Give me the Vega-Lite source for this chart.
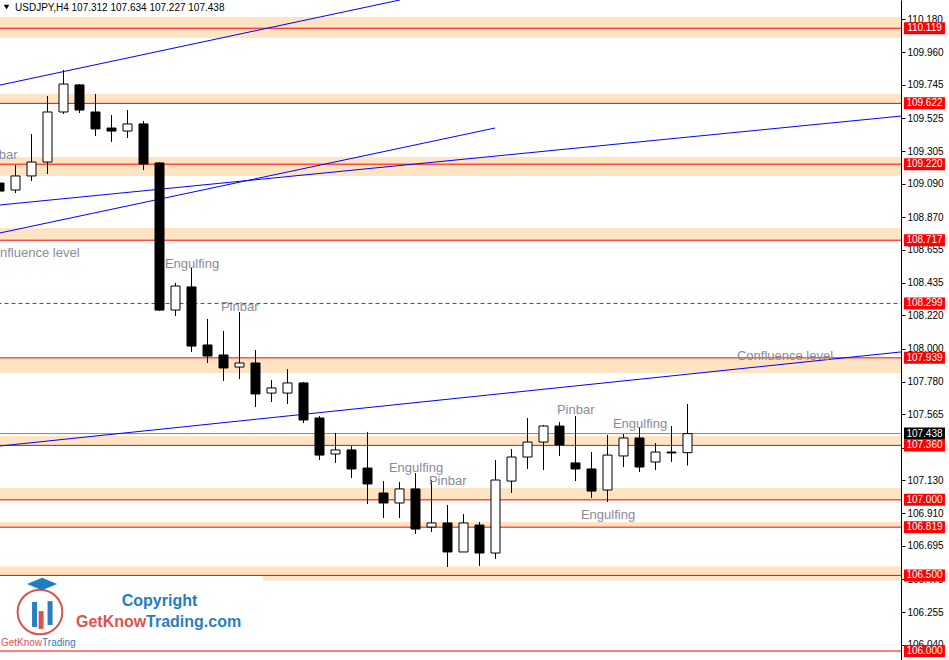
{
  "$schema": "https://vega.github.io/schema/vega-lite/v6.json",
  "description": "USDJPY H4 candlestick chart with support/resistance zones and pattern notes",
  "width": 949,
  "height": 660,
  "autosize": {"type": "none"},
  "padding": 0,
  "background": "white",
  "view": {"stroke": null},
  "config": {"font": "Liberation Sans", "scale": {"continuousPadding": 0}},
  "datasets": {
    "candles": [
      {"i": 0, "o": 109.095, "h": 109.11, "l": 109.03, "c": 109.042},
      {"i": 1, "o": 109.049, "h": 109.214, "l": 109.029, "c": 109.142},
      {"i": 2, "o": 109.142, "h": 109.419, "l": 109.109, "c": 109.234},
      {"i": 3, "o": 109.234, "h": 109.671, "l": 109.155, "c": 109.565},
      {"i": 4, "o": 109.565, "h": 109.843, "l": 109.552, "c": 109.75},
      {"i": 5, "o": 109.744, "h": 109.75, "l": 109.558, "c": 109.578},
      {"i": 6, "o": 109.565, "h": 109.684, "l": 109.406, "c": 109.453},
      {"i": 7, "o": 109.459, "h": 109.545, "l": 109.367, "c": 109.439},
      {"i": 8, "o": 109.439, "h": 109.578, "l": 109.393, "c": 109.486},
      {"i": 9, "o": 109.486, "h": 109.505, "l": 109.181, "c": 109.221},
      {"i": 10, "o": 109.228, "h": 109.234, "l": 108.249, "c": 108.255},
      {"i": 11, "o": 108.255, "h": 108.434, "l": 108.216, "c": 108.414},
      {"i": 12, "o": 108.408, "h": 108.533, "l": 107.978, "c": 108.017},
      {"i": 13, "o": 108.024, "h": 108.196, "l": 107.905, "c": 107.951},
      {"i": 14, "o": 107.958, "h": 108.117, "l": 107.786, "c": 107.872},
      {"i": 15, "o": 107.878, "h": 108.242, "l": 107.799, "c": 107.905},
      {"i": 16, "o": 107.905, "h": 107.991, "l": 107.614, "c": 107.7},
      {"i": 17, "o": 107.706, "h": 107.792, "l": 107.647, "c": 107.74},
      {"i": 18, "o": 107.706, "h": 107.865, "l": 107.634, "c": 107.773},
      {"i": 19, "o": 107.773, "h": 107.779, "l": 107.508, "c": 107.528},
      {"i": 20, "o": 107.541, "h": 107.554, "l": 107.263, "c": 107.296},
      {"i": 21, "o": 107.303, "h": 107.442, "l": 107.244, "c": 107.33},
      {"i": 22, "o": 107.33, "h": 107.356, "l": 107.144, "c": 107.204},
      {"i": 23, "o": 107.21, "h": 107.449, "l": 106.972, "c": 107.105},
      {"i": 24, "o": 107.045, "h": 107.124, "l": 106.88, "c": 106.979},
      {"i": 25, "o": 106.979, "h": 107.118, "l": 106.88, "c": 107.072},
      {"i": 26, "o": 107.072, "h": 107.177, "l": 106.774, "c": 106.807},
      {"i": 27, "o": 106.82, "h": 107.131, "l": 106.787, "c": 106.847},
      {"i": 28, "o": 106.847, "h": 106.966, "l": 106.556, "c": 106.655},
      {"i": 29, "o": 106.655, "h": 106.906, "l": 106.655, "c": 106.847},
      {"i": 30, "o": 106.833, "h": 106.853, "l": 106.562, "c": 106.648},
      {"i": 31, "o": 106.648, "h": 107.263, "l": 106.609, "c": 107.131},
      {"i": 32, "o": 107.124, "h": 107.336, "l": 107.045, "c": 107.283},
      {"i": 33, "o": 107.283, "h": 107.541, "l": 107.204, "c": 107.382},
      {"i": 34, "o": 107.382, "h": 107.495, "l": 107.197, "c": 107.488},
      {"i": 35, "o": 107.488, "h": 107.515, "l": 107.29, "c": 107.363},
      {"i": 36, "o": 107.244, "h": 107.554, "l": 107.124, "c": 107.204},
      {"i": 37, "o": 107.204, "h": 107.316, "l": 107.012, "c": 107.058},
      {"i": 38, "o": 107.065, "h": 107.429, "l": 106.986, "c": 107.296},
      {"i": 39, "o": 107.29, "h": 107.435, "l": 107.217, "c": 107.409},
      {"i": 40, "o": 107.409, "h": 107.482, "l": 107.184, "c": 107.217},
      {"i": 41, "o": 107.25, "h": 107.376, "l": 107.197, "c": 107.316},
      {"i": 42, "o": 107.316, "h": 107.488, "l": 107.25, "c": 107.31},
      {"i": 43, "o": 107.312, "h": 107.634, "l": 107.227, "c": 107.438}
    ],
    "zones": [
      {"i": -1, "i2": 56.34, "p": 110.193, "p2": 110.054},
      {"i": -1, "i2": 56.34, "p": 109.684, "p2": 109.618},
      {"i": -1, "i2": 56.34, "p": 109.267, "p2": 109.142},
      {"i": -1, "i2": 56.34, "p": 108.798, "p2": 108.718},
      {"i": -1, "i2": 56.34, "p": 107.938, "p2": 107.839},
      {"i": -1, "i2": 56.34, "p": 107.422, "p2": 107.363},
      {"i": -1, "i2": 56.34, "p": 107.078, "p2": 106.995},
      {"i": -1, "i2": 56.34, "p": 106.853, "p2": 106.82},
      {"i": -1, "i2": 56.34, "p": 106.56, "p2": 106.497},
      {"i": 16.47, "i2": 56.34, "p": 106.497, "p2": 106.467}
    ],
    "levels": [
      {"p": 110.119, "label": "110.119", "kind": "level"},
      {"p": 109.622, "label": "109.622", "kind": "level"},
      {"p": 109.22, "label": "109.220", "kind": "level"},
      {"p": 108.717, "label": "108.717", "kind": "level"},
      {"p": 108.299, "label": "108.299", "kind": "dashed"},
      {"p": 107.939, "label": "107.939", "kind": "level"},
      {"p": 107.36, "label": "107.360", "kind": "level"},
      {"p": 107.0, "label": "107.000", "kind": "level"},
      {"p": 106.819, "label": "106.819", "kind": "level"},
      {"p": 106.5, "label": "106.500", "kind": "level"},
      {"p": 106.0, "label": "106.000", "kind": "level"},
      {"p": 107.438, "label": "107.438", "kind": "bid"}
    ],
    "trends": [
      {"id": "a", "i": 0.03, "p": 109.743},
      {"id": "a", "i": 25.03, "p": 110.306},
      {"id": "b", "i": 0.03, "p": 108.765},
      {"id": "b", "i": 30.97, "p": 109.459},
      {"id": "c", "i": 0.03, "p": 108.95},
      {"id": "c", "i": 56.34, "p": 109.538},
      {"id": "d", "i": 0.03, "p": 107.356},
      {"id": "d", "i": 56.34, "p": 107.978}
    ],
    "notes": [
      {"i": -1.22, "p": 109.257, "text": "Pinbar"},
      {"i": -1.006, "p": 108.608, "text": "Confluence level"},
      {"i": 10.34, "p": 108.53, "text": "Engulfing"},
      {"i": 13.84, "p": 108.249, "text": "Pinbar"},
      {"i": 46.09, "p": 107.925, "text": "Confluence level"},
      {"i": 24.34, "p": 107.187, "text": "Engulfing"},
      {"i": 26.84, "p": 107.098, "text": "Pinbar"},
      {"i": 34.84, "p": 107.568, "text": "Pinbar"},
      {"i": 38.34, "p": 107.478, "text": "Engulfing"},
      {"i": 36.34, "p": 106.876, "text": "Engulfing"}
    ],
    "header": [
      {"i": 0.97, "p": 110.233, "text": "USDJPY,H4  107.312 107.634 107.227 107.438"}
    ],
    "marker": [{"i": 0.44, "p": 110.259}],
    "logo_ring": [{"i": 2.53, "p": 106.258}],
    "logo_cap": [{"i": 2.66, "p": 106.443}],
    "logo_bars": [
      {"i": 2.19, "p": 106.324, "p2": 106.159, "tone": "blue"},
      {"i": 2.6, "p": 106.264, "p2": 106.146, "tone": "red"},
      {"i": 3.16, "p": 106.33, "p2": 106.172, "tone": "blue"}
    ],
    "logo_title": [{"i": 10.0, "p": 106.301, "text": "Copyright"}],
    "logo_brand": [
      {"i": 4.78, "p": 106.162, "text": "GetKnow", "tone": "red"},
      {"i": 9.16, "p": 106.162, "text": "Trading.com", "tone": "blue"}
    ],
    "logo_small": [
      {"i": 0.09, "p": 106.033, "text": "GetKnow", "tone": "red"},
      {"i": 2.66, "p": 106.033, "text": "Trading", "tone": "blue"}
    ]
  },
  "encoding": {
    "y": {
      "field": "p",
      "type": "quantitative",
      "scale": {"domain": [105.9406, 110.3057], "nice": false, "zero": false, "padding": 0},
      "axis": {
        "orient": "right",
        "offset": -48,
        "title": null,
        "grid": false,
        "values": [110.18, 109.96, 109.745, 109.525, 109.305, 109.09, 108.87, 108.655, 108.435, 108.22, 108.0, 107.78, 107.565, 107.345, 107.13, 106.91, 106.695, 106.475, 106.255, 106.04],
        "format": ".3f",
        "domainColor": "black",
        "tickColor": "black",
        "tickSize": 4,
        "labelColor": "black",
        "labelFont": "Liberation Sans",
        "labelFontSize": 10,
        "labelPadding": 2,
        "labelOverlap": false,
        "labelBound": false,
        "labelFlush": false,
        "zindex": 0
      }
    }
  },
  "layer": [
    {
      "data": {"name": "zones"},
      "mark": {"type": "rect", "color": "#ffe4c4"},
      "encoding": {
        "x": {"field": "i", "type": "quantitative", "scale": {"domain": [0.03125, 59.34375], "nice": false, "zero": false, "padding": 0}, "axis": null},
        "x2": {"field": "i2"},
        "y2": {"field": "p2"}
      }
    },
    {
      "data": {"name": "levels"},
      "transform": [{"filter": "datum.kind == 'level'"}],
      "mark": {"type": "rule", "color": "#ff0000", "strokeWidth": 1},
      "encoding": {
        "x": {"datum": -1, "type": "quantitative", "scale": {"domain": [0.03125, 59.34375], "nice": false, "zero": false, "padding": 0}, "axis": null},
        "x2": {"datum": 56.34}
      }
    },
    {
      "data": {"name": "levels"},
      "transform": [{"filter": "datum.kind == 'dashed'"}],
      "mark": {"type": "rule", "color": "#ff0000", "strokeWidth": 1, "strokeDash": [4, 3]},
      "encoding": {
        "x": {"datum": -1, "type": "quantitative", "scale": {"domain": [0.03125, 59.34375], "nice": false, "zero": false, "padding": 0}, "axis": null},
        "x2": {"datum": 56.34}
      }
    },
    {
      "data": {"name": "levels"},
      "transform": [{"filter": "datum.kind == 'bid'"}],
      "mark": {"type": "rule", "color": "#778899", "strokeWidth": 1},
      "encoding": {
        "x": {"datum": -1, "type": "quantitative", "scale": {"domain": [0.03125, 59.34375], "nice": false, "zero": false, "padding": 0}, "axis": null},
        "x2": {"datum": 56.34}
      }
    },
    {
      "data": {"name": "trends"},
      "mark": {"type": "line", "color": "#0000ff", "strokeWidth": 1},
      "encoding": {
        "x": {"field": "i", "type": "quantitative", "scale": {"domain": [0.03125, 59.34375], "nice": false, "zero": false, "padding": 0}, "axis": null},
        "detail": {"field": "id"}
      }
    },
    {
      "data": {"name": "candles"},
      "mark": {"type": "rule", "color": "black", "strokeWidth": 1},
      "encoding": {
        "x": {"field": "i", "type": "quantitative", "scale": {"domain": [0.03125, 59.34375], "nice": false, "zero": false, "padding": 0}, "axis": null},
        "y": {"field": "l", "type": "quantitative"},
        "y2": {"field": "h"}
      }
    },
    {
      "data": {"name": "candles"},
      "transform": [{"filter": "datum.c >= datum.o"}],
      "mark": {"type": "bar", "size": 9, "fill": "white", "stroke": "black", "strokeWidth": 1},
      "encoding": {
        "x": {"field": "i", "type": "quantitative", "scale": {"domain": [0.03125, 59.34375], "nice": false, "zero": false, "padding": 0}, "axis": null},
        "y": {"field": "o", "type": "quantitative"},
        "y2": {"field": "c"}
      }
    },
    {
      "data": {"name": "candles"},
      "transform": [{"filter": "datum.c < datum.o"}],
      "mark": {"type": "bar", "size": 9, "fill": "black", "stroke": "black", "strokeWidth": 1},
      "encoding": {
        "x": {"field": "i", "type": "quantitative", "scale": {"domain": [0.03125, 59.34375], "nice": false, "zero": false, "padding": 0}, "axis": null},
        "y": {"field": "o", "type": "quantitative"},
        "y2": {"field": "c"}
      }
    },
    {
      "data": {"name": "notes"},
      "mark": {"type": "text", "align": "left", "baseline": "alphabetic", "fontSize": 13, "color": "#8a8a9a"},
      "encoding": {
        "x": {"field": "i", "type": "quantitative", "scale": {"domain": [0.03125, 59.34375], "nice": false, "zero": false, "padding": 0}, "axis": null},
        "text": {"field": "text"}
      }
    },
    {
      "data": {"name": "levels"},
      "mark": {"type": "tick", "orient": "horizontal", "size": 41, "thickness": 12, "opacity": 1},
      "encoding": {
        "x": {"datum": 57.81, "type": "quantitative", "scale": {"domain": [0.03125, 59.34375], "nice": false, "zero": false, "padding": 0}, "axis": null},
        "color": {"condition": {"test": "datum.kind == 'bid'", "value": "black"}, "value": "#ff0000"}
      }
    },
    {
      "data": {"name": "levels"},
      "mark": {"type": "text", "align": "center", "baseline": "middle", "fontSize": 10, "color": "white"},
      "encoding": {
        "x": {"datum": 57.81, "type": "quantitative", "scale": {"domain": [0.03125, 59.34375], "nice": false, "zero": false, "padding": 0}, "axis": null},
        "text": {"field": "label"}
      }
    },
    {
      "data": {"name": "header"},
      "mark": {"type": "text", "align": "left", "baseline": "alphabetic", "fontSize": 10, "color": "black"},
      "encoding": {
        "x": {"field": "i", "type": "quantitative", "scale": {"domain": [0.03125, 59.34375], "nice": false, "zero": false, "padding": 0}, "axis": null},
        "text": {"field": "text"}
      }
    },
    {
      "data": {"name": "marker"},
      "mark": {"type": "point", "shape": "triangle-down", "filled": true, "size": 30, "color": "black", "opacity": 1},
      "encoding": {
        "x": {"field": "i", "type": "quantitative", "scale": {"domain": [0.03125, 59.34375], "nice": false, "zero": false, "padding": 0}, "axis": null}
      }
    },
    {
      "data": {"name": "logo_ring"},
      "mark": {"type": "point", "shape": "circle", "filled": false, "size": 2000, "stroke": "#d9534f", "strokeWidth": 2, "opacity": 1},
      "encoding": {
        "x": {"field": "i", "type": "quantitative", "scale": {"domain": [0.03125, 59.34375], "nice": false, "zero": false, "padding": 0}, "axis": null}
      }
    },
    {
      "data": {"name": "logo_cap"},
      "mark": {"type": "point", "shape": "M-1,0L0,-0.42L1,0L0,0.42Z", "filled": true, "size": 900, "color": "#1f7dc1", "opacity": 1},
      "encoding": {
        "x": {"field": "i", "type": "quantitative", "scale": {"domain": [0.03125, 59.34375], "nice": false, "zero": false, "padding": 0}, "axis": null}
      }
    },
    {
      "data": {"name": "logo_bars"},
      "mark": {"type": "bar", "size": 5},
      "encoding": {
        "x": {"field": "i", "type": "quantitative", "scale": {"domain": [0.03125, 59.34375], "nice": false, "zero": false, "padding": 0}, "axis": null},
        "y2": {"field": "p2"},
        "color": {"field": "tone", "type": "nominal", "scale": {"domain": ["red", "blue"], "range": ["#d9534f", "#2b7fc0"]}, "legend": null}
      }
    },
    {
      "data": {"name": "logo_title"},
      "mark": {"type": "text", "align": "center", "baseline": "alphabetic", "fontSize": 16, "fontWeight": "bold", "color": "#1f7dc1"},
      "encoding": {
        "x": {"field": "i", "type": "quantitative", "scale": {"domain": [0.03125, 59.34375], "nice": false, "zero": false, "padding": 0}, "axis": null},
        "text": {"field": "text"}
      }
    },
    {
      "data": {"name": "logo_brand"},
      "mark": {"type": "text", "align": "left", "baseline": "alphabetic", "fontSize": 16, "fontWeight": "bold"},
      "encoding": {
        "x": {"field": "i", "type": "quantitative", "scale": {"domain": [0.03125, 59.34375], "nice": false, "zero": false, "padding": 0}, "axis": null},
        "text": {"field": "text"},
        "color": {"field": "tone", "type": "nominal", "scale": {"domain": ["red", "blue"], "range": ["#d9534f", "#2b7fc0"]}, "legend": null}
      }
    },
    {
      "data": {"name": "logo_small"},
      "mark": {"type": "text", "align": "left", "baseline": "alphabetic", "fontSize": 10},
      "encoding": {
        "x": {"field": "i", "type": "quantitative", "scale": {"domain": [0.03125, 59.34375], "nice": false, "zero": false, "padding": 0}, "axis": null},
        "text": {"field": "text"},
        "color": {"field": "tone", "type": "nominal", "scale": {"domain": ["red", "blue"], "range": ["#d9534f", "#2b7fc0"]}, "legend": null}
      }
    }
  ]
}
